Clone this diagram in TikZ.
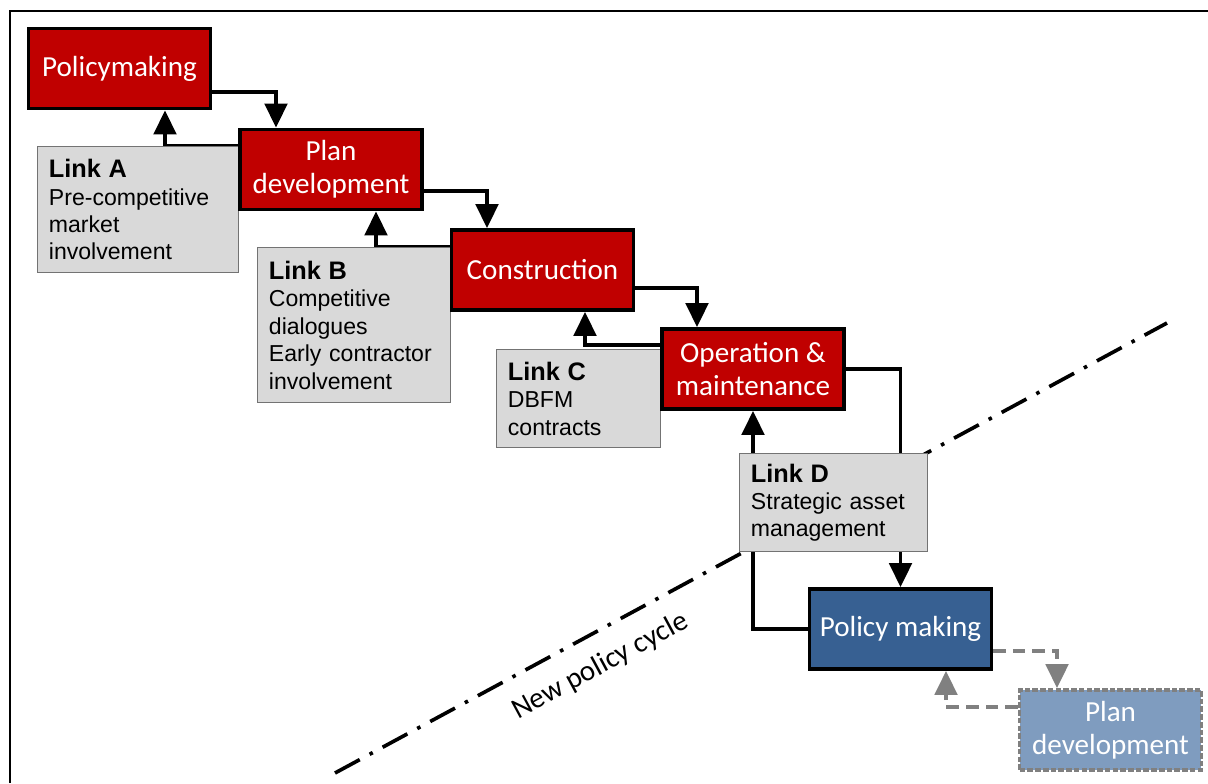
\documentclass[tikz,border=0pt]{standalone}
\usepackage{fontspec}
\setmainfont{Carlito}
\newfontfamily\arialfont{Liberation Sans}
\usepackage{tikz}
\usetikzlibrary{arrows.meta,backgrounds}

\definecolor{phasered}{HTML}{C00000}
\definecolor{phaseblue}{HTML}{376092}
\definecolor{phaselight}{HTML}{7F9CBF}
\definecolor{linkgray}{HTML}{D9D9D9}
\definecolor{dashgray}{HTML}{808080}

\newcommand{\linktitle}[1]{{\fontsize{18}{19.5}\selectfont\bfseries #1}}

\begin{document}
\begin{tikzpicture}[x=0.025cm, y=-0.025cm,
        phase/.style={draw=black, line width=2.5pt, fill=phasered, text=white,
            minimum width=4.54cm, minimum height=2.01cm, align=center, inner sep=2pt,
            font=\fontsize{20.7}{23.5}\selectfont},
        link/.style={draw=black!55, line width=1pt, fill=linkgray, anchor=north west,
            inner xsep=8pt, align=left, font=\arialfont\fontsize{16.4}{19.5}\selectfont},
        flow/.style={line width=2.6pt, -{Triangle[length=17pt,width=16pt]}},
        flownext/.style={flow, dashgray, dash pattern=on 9pt off 5pt},
        cycleline/.style={line width=2.6pt, dash pattern=on 20pt off 8pt on 2.5pt off 8pt}]

                    \useasboundingbox (0,0) rectangle (1208,783);
                    \draw[line width=1.5pt] (10,783) -- (10,11) -- (1208,11);

                    % links between the phases
                    \node[link, text width=4.45cm, minimum height=3.15cm] (la) at (37,146)
                        {\linktitle{Link A}\\ Pre-competitive\\ market\\ involvement};
                    \node[link, text width=4.25cm, minimum height=3.875cm] (lb) at (257,247)
                        {\linktitle{Link B}\\ Competitive\\ dialogues\\ Early contractor\\ involvement};
                    \node[link, text width=3.53cm, minimum height=2.45cm] (lc) at (496,349)
                        {\linktitle{Link C}\\ DBFM\\ contracts};
                    \node[link, text width=4.13cm, minimum height=2.45cm] (ld) at (739,453)
                        {\linktitle{Link D}\\ Strategic asset\\ management};

                    % phases
                    \node[phase] (pm) at (119.5,68.5) {Policymaking};
                    \node[phase] (pd) at (331,169.5) {Plan\\ development};
                    \node[phase] (con) at (542.5,270) {Construction};
                    \node[phase] (om) at (753,369) {Operation \&\\ maintenance};
                    \node[phase, fill=phaseblue] (pm2) at (900.5,629) {Policy making};
                    \node[phase, fill=phaselight, draw=dashgray, dash pattern=on 4pt off 1.5pt]
                        (pd2) at (1110.5,730) {Plan\\ development};

                    \node[rotate=28.4, anchor=base, font=\fontsize{20.7}{24}\selectfont]
                        (cycle) at (604,673) {New policy cycle};

                    \begin{scope}[on background layer]
                        \draw[cycleline] (335,773) -- (1167,323);

                        \draw[flow] (pm.east |- 0,92) -| (pd.north -| 276,0);
                        \draw[flow] (pd.west |- la.north) -| (pm.south -| 165,0);
                        \draw[flow] (pd.east |- 0,191) -| (con.north -| 487,0);
                        \draw[flow] (con.west |- lb.north) -| (pd.south -| 376,0);
                        \draw[flow] (con.east |- 0,288) -| (om.north -| 697,0);
                        \draw[flow] (om.west |- 0,345) -| (con.south -| 585,0);
                        \draw[flow] (om.east) -| (pm2.north);
                        \draw[flow] (pm2.west) -| (om.south);

                        \draw[flownext] (pm2.east |- 0,651) -| (pd2.north -| 1057,0);
                        \draw[flownext] (pd2.west |- 0,707) -| (pm2.south -| 946,0);
                    \end{scope}
                              
                \end{tikzpicture}
\end{document}
